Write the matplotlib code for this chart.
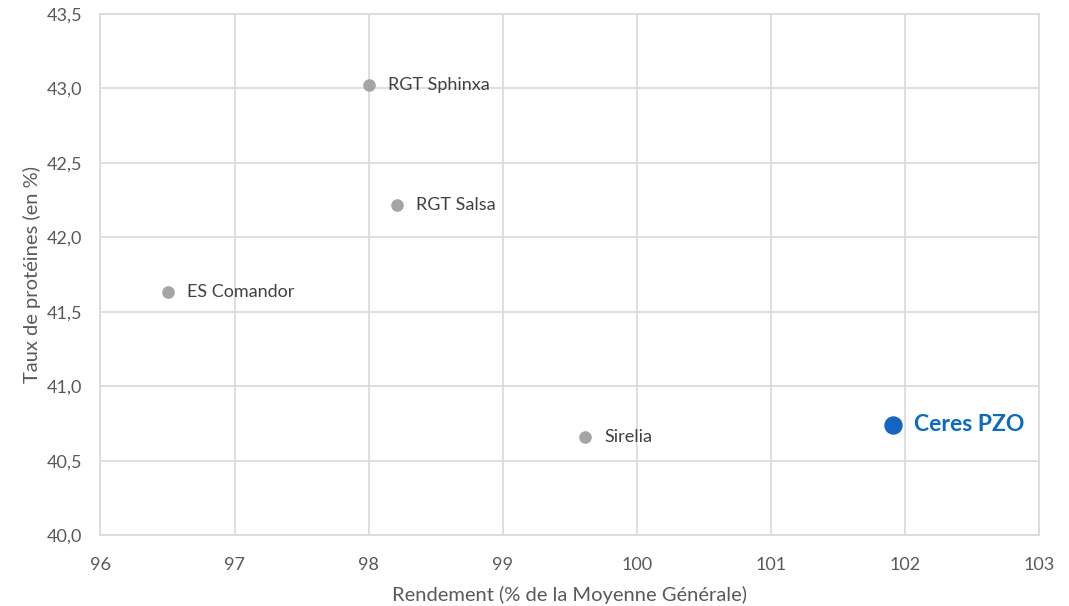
import matplotlib.pyplot as plt
from matplotlib.ticker import FuncFormatter

plt.rcParams['font.family'] = ['Lato', 'DejaVu Sans']

varietes = ['RGT Sphinxa', 'RGT Salsa', 'ES Comandor', 'Sirelia']
rendement = [98.0, 98.21, 96.5, 99.61]
proteines = [43.02, 42.22, 41.63, 40.66]

ceres_nom = 'Ceres PZO'
ceres_rdt = 101.91
ceres_prot = 40.74

fig, ax = plt.subplots(figsize=(10.69, 6.06), dpi=100)
fig.subplots_adjust(left=0.094, right=0.972, top=0.977, bottom=0.117)

ax.scatter(rendement, proteines, s=65, color='#a5a5a5', zorder=3)
for nom, x, y in zip(varietes, rendement, proteines):
    ax.annotate(nom, (x, y), xytext=(14, 0), textcoords='offset points',
                va='center', ha='left', fontsize=13, color='#404040')

ax.scatter([ceres_rdt], [ceres_prot], s=150, color='#1565c0', zorder=3)
ax.annotate(ceres_nom, (ceres_rdt, ceres_prot), xytext=(15, 0), textcoords='offset points',
            va='center', ha='left', fontsize=16.5, color='#0a6bbf', fontweight='bold')

ax.set_xlim(96, 103)
ax.set_ylim(40.0, 43.5)
ax.set_xticks(range(96, 104))
ax.set_yticks([40.0, 40.5, 41.0, 41.5, 42.0, 42.5, 43.0, 43.5])
ax.yaxis.set_major_formatter(FuncFormatter(lambda v, p: f'{v:.1f}'.replace('.', ',')))
ax.tick_params(length=0, labelsize=13, labelcolor='#595959')
ax.tick_params(axis='x', pad=16)
ax.tick_params(axis='y', pad=13)

ax.grid(True, color='#d9d9d9', linewidth=1.2)
ax.set_axisbelow(True)
for s in ax.spines.values():
    s.set_color('#d9d9d9')
    s.set_linewidth(1.2)

ax.set_xlabel('Rendement (% de la Moyenne Générale)', fontsize=14.5, color='#595959', labelpad=9)
ax.set_ylabel('Taux de protéines (en %)', fontsize=14.5, color='#595959', labelpad=4)

plt.savefig('out.png')
